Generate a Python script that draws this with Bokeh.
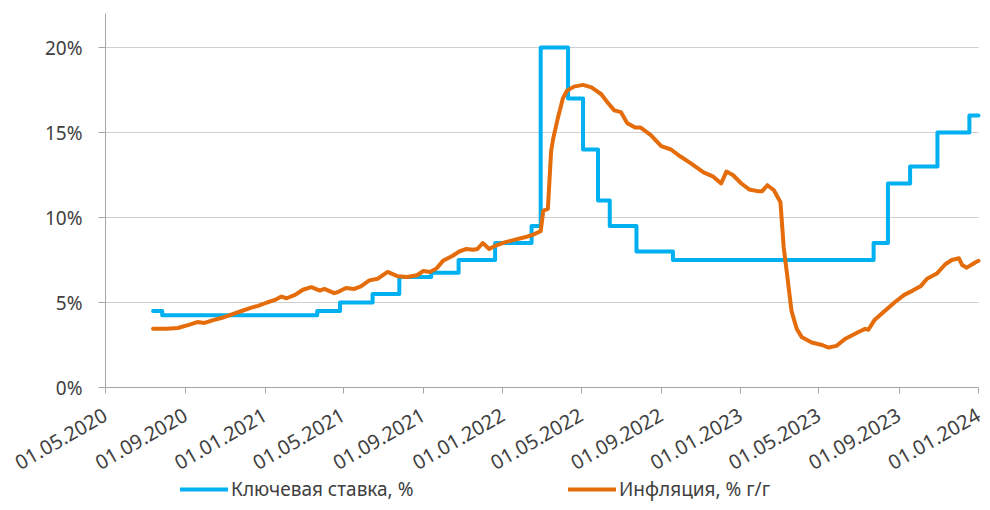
import pandas as pd
from bokeh.plotting import figure
from bokeh.models import (Range1d, FixedTicker, Legend, LegendItem, Grid,
                          PrintfTickFormatter, DatetimeTickFormatter, ColumnDataSource)
from bokeh.embed import file_html
from bokeh.resources import INLINE

# ---- data -------------------------------------------------------------
key_rate_dates = ["2020-07-13", "2020-07-27", "2021-03-22", "2021-04-26", "2021-06-15",
                  "2021-07-26", "2021-09-13", "2021-10-25", "2021-12-20", "2022-02-14",
                  "2022-02-28", "2022-04-11", "2022-05-04", "2022-05-27", "2022-06-14",
                  "2022-07-25", "2022-09-19", "2023-07-24", "2023-08-15", "2023-09-18",
                  "2023-10-30", "2023-12-18", "2024-01-01"]
key_rate_values = [4.5, 4.25, 4.5, 5.0, 5.5, 6.5, 6.75, 7.5, 8.5, 9.5, 20.0, 17.0, 14.0,
                   11.0, 9.5, 8.0, 7.5, 8.5, 12.0, 13.0, 15.0, 16.0, 16.0]

inflation_dates = [
    "2020-07-13", "2020-08-03", "2020-08-20", "2020-09-07", "2020-09-19", "2020-09-30",
    "2020-10-12", "2020-10-27", "2020-11-11", "2020-11-26", "2020-12-11", "2020-12-21",
    "2021-01-04", "2021-01-16", "2021-01-26", "2021-02-03", "2021-02-16", "2021-02-28",
    "2021-03-13", "2021-03-26", "2021-04-02", "2021-04-17", "2021-04-22", "2021-05-05",
    "2021-05-18", "2021-05-28", "2021-06-10", "2021-06-23", "2021-07-08", "2021-07-23",
    "2021-08-07", "2021-08-22", "2021-09-01", "2021-09-11", "2021-09-21", "2021-10-01",
    "2021-10-16", "2021-10-26", "2021-11-06", "2021-11-16", "2021-11-23", "2021-12-01",
    "2021-12-11", "2021-12-21", "2022-01-05", "2022-01-20", "2022-02-05", "2022-02-17",
    "2022-02-28", "2022-03-04", "2022-03-11", "2022-03-16", "2022-03-19", "2022-03-26",
    "2022-04-03", "2022-04-09", "2022-04-20", "2022-05-04", "2022-05-17", "2022-06-01",
    "2022-06-11", "2022-06-21", "2022-07-01", "2022-07-11", "2022-07-23", "2022-07-31",
    "2022-08-16", "2022-09-01", "2022-09-16", "2022-09-30", "2022-10-16", "2022-11-05",
    "2022-11-20", "2022-12-02", "2022-12-10", "2022-12-20", "2023-01-02", "2023-01-14",
    "2023-01-27", "2023-02-03", "2023-02-11", "2023-02-21", "2023-03-03", "2023-03-08",
    "2023-03-13", "2023-03-20", "2023-03-28", "2023-04-05", "2023-04-20", "2023-05-06",
    "2023-05-16", "2023-05-28", "2023-06-10", "2023-06-30", "2023-07-11", "2023-07-16",
    "2023-07-25", "2023-08-10", "2023-08-25", "2023-09-09", "2023-09-22", "2023-10-04",
    "2023-10-14", "2023-10-29", "2023-11-11", "2023-11-21", "2023-12-02", "2023-12-07",
    "2023-12-14", "2023-12-27", "2024-01-01"]
inflation_values = [
    3.45, 3.45, 3.5, 3.7, 3.85, 3.8,
    3.95, 4.1, 4.3, 4.5, 4.7, 4.8,
    5.0, 5.15, 5.35, 5.25, 5.45, 5.75,
    5.9, 5.7, 5.8, 5.55, 5.6, 5.85,
    5.8, 5.95, 6.3, 6.4, 6.8, 6.55,
    6.5, 6.6, 6.85, 6.8, 7.0, 7.45,
    7.75, 8.0, 8.15, 8.1, 8.15, 8.5,
    8.15, 8.35, 8.55, 8.7, 8.85, 9.0,
    9.2, 10.4, 10.5, 13.9, 14.6, 15.8,
    17.0, 17.45, 17.7, 17.8, 17.65, 17.25,
    16.75, 16.3, 16.2, 15.55, 15.3, 15.3,
    14.85, 14.2, 14.0, 13.6, 13.2, 12.65,
    12.4, 12.0, 12.7, 12.5, 12.0, 11.65,
    11.55, 11.55, 11.9, 11.6, 10.9, 8.25,
    6.7, 4.5, 3.45, 2.95, 2.65, 2.5,
    2.35, 2.45, 2.85, 3.25, 3.45, 3.4,
    3.95, 4.5, 5.0, 5.45, 5.7, 5.95,
    6.4, 6.7, 7.25, 7.5, 7.6, 7.2,
    7.05, 7.35, 7.45]

x_tick_dates = ["2020-05-01", "2020-09-01", "2021-01-01", "2021-05-01", "2021-09-01",
                "2022-01-01", "2022-05-01", "2022-09-01", "2023-01-01", "2023-05-01",
                "2023-09-01", "2024-01-01"]
y_ticks = [0, 5, 10, 15, 20]
y_max = 22
series_names = ["Ключевая ставка, %", "Инфляция, % г/г"]

# ---- styling / layout -------------------------------------------------
FONT = "Noto Sans"
TEXT_COLOR = "#404040"
BLUE = "#00B0F0"
ORANGE = "#E46C0A"
W, H = 982, 502
BOX_L, BOX_R, BOX_T, BOX_B = 105, 978, 13, 387   # pixel box of the value area


def ms(d):
    return pd.Timestamp(d).value / 1e6


x0, x1 = ms(x_tick_dates[0]), ms(x_tick_dates[-1])
per_px_x = (x1 - x0) / (BOX_R - BOX_L)
per_px_y = (y_max - y_ticks[0]) / (BOX_B - BOX_T)
x_range = Range1d(x0 - BOX_L * per_px_x, x1 + (W - BOX_R) * per_px_x)
y_range = Range1d(y_ticks[0] - (H - BOX_B) * per_px_y, y_max + BOX_T * per_px_y)

key_src = ColumnDataSource(dict(x=[ms(d) for d in key_rate_dates], y=key_rate_values))
inf_src = ColumnDataSource(dict(x=[ms(d) for d in inflation_dates], y=inflation_values))

p = figure(width=W, height=H, x_axis_type="datetime",
           x_range=x_range, y_range=y_range,
           output_backend="svg", toolbar_location=None,
           min_border_left=0, min_border_right=0, min_border_top=0,
           min_border_bottom=0)
p.outline_line_color = None
p.background_fill_color = "white"
p.border_fill_color = "white"

p.xgrid.visible = False
p.ygrid.ticker = FixedTicker(ticks=y_ticks[1:])
p.ygrid.grid_line_color = "#D0D0D0"
p.ygrid.grid_line_width = 1
if "cross_bounds" in Grid.properties():
    p.ygrid.cross_bounds = (x0, x1)

r_key = p.step("x", "y", source=key_src, mode="after", line_color=BLUE,
               line_width=4, line_join="round", line_cap="round")
r_inf = p.line("x", "y", source=inf_src, line_color=ORANGE, line_width=4,
               line_join="round", line_cap="round")

# axes (fixed inside the canvas-wide frame so nothing is clipped)
p.xaxis.fixed_location = y_ticks[0]
p.xaxis.bounds = (x0, x1)
p.xaxis.ticker = FixedTicker(ticks=[ms(d) for d in x_tick_dates])
p.xaxis.formatter = DatetimeTickFormatter(days="%d.%m.%Y", months="%d.%m.%Y",
                                          years="%d.%m.%Y", hours="%d.%m.%Y")
p.xaxis.major_label_orientation = 0.52
p.yaxis.fixed_location = x0
p.yaxis.bounds = (y_ticks[0], y_max)
p.yaxis.ticker = FixedTicker(ticks=y_ticks)
p.yaxis.formatter = PrintfTickFormatter(format="%d%%")

for ax in (p.xaxis, p.yaxis):
    ax.axis_line_color = "#A6A6A6"
    ax.axis_line_width = 1
    ax.major_tick_line_color = "#A6A6A6"
    ax.major_tick_in = 0
    ax.minor_tick_line_color = None
    ax.major_label_text_font = FONT
    ax.major_label_text_color = TEXT_COLOR
p.yaxis.major_label_text_font_size = "19px"
p.xaxis.major_label_text_font_size = "20px"
p.xaxis.major_tick_out = 6
p.yaxis.major_tick_out = 7
p.yaxis.major_label_standoff = 16
p.xaxis.major_label_standoff = 20

legend = Legend(items=[LegendItem(label=series_names[0], renderers=[r_key]),
                       LegendItem(label=series_names[1], renderers=[r_inf])],
                orientation="horizontal", location=(180, 0),
                glyph_width=48, glyph_height=20, label_standoff=3,
                label_width=288, spacing=49, padding=0, margin=0,
                label_text_font=FONT, label_text_font_size="19px",
                label_text_color=TEXT_COLOR, border_line_color=None,
                background_fill_alpha=0)
p.add_layout(legend, "center")

open("out.html", "w").write(file_html(p, INLINE))
